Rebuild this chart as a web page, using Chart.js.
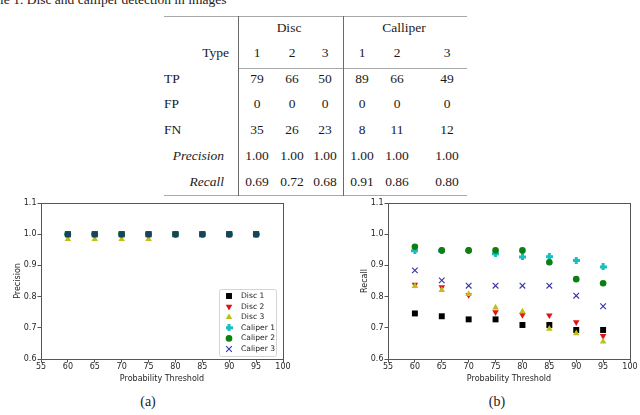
<!DOCTYPE html>
<html>
<head>
<meta charset="utf-8">
<script src="https://cdn.jsdelivr.net/npm/chart.js@4.4.1/dist/chart.umd.min.js"></script>
<style>
  html, body { margin: 0; padding: 0; background: #fff; }
  #page { position: relative; width: 640px; height: 415px; overflow: hidden;
          font-family: 'Liberation Serif', 'DejaVu Serif', serif; color: #1a1a1a; }
  .txt { position: absolute; font-size: 13.5px; line-height: 16px; white-space: nowrap; }
  .hl { position: absolute; height: 0; border-top: 1px solid #a8a8a8; }
  .vl { position: absolute; width: 0; border-left: 1px solid #6a6a6a; }
  canvas { position: absolute; }
</style>
</head>
<body>
<div id="page">
  <div class="txt" style="left:-20px;top:-8px;">Table 1. Disc and calliper detection in images</div>
  <div id="table"></div>
  <canvas id="precisionChart" width="300" height="200" style="left:0;top:190px"></canvas>
  <canvas id="recallChart" width="320" height="200" style="left:320px;top:190px"></canvas>
  <div class="txt" style="left:148px;top:394px;transform:translateX(-50%);font-size:14px">(a)</div>
  <div class="txt" style="left:497px;top:394px;transform:translateX(-50%);font-size:14px">(b)</div>
</div>
<script>
// ---- table data ----
let tableGroups = ['Disc', 'Calliper'];
let tableTypes = ['1', '2', '3', '1', '2', '3'];
let tableTP = ['79', '66', '50', '89', '66', '49'];
let tableFP = ['0', '0', '0', '0', '0', '0'];
let tableFN = ['35', '26', '23', '8', '11', '12'];
let tablePrecision = ['1.00', '1.00', '1.00', '1.00', '1.00', '1.00'];
let tableRecall = ['0.69', '0.72', '0.68', '0.91', '0.86', '0.80'];

// ---- chart data ----
let thresholds = [60, 65, 70, 75, 80, 85, 90, 95];
let seriesNames = ['Disc 1', 'Disc 2', 'Disc 3', 'Caliper 1', 'Caliper 2', 'Caliper 3'];

let precisionDisc1 = [1.0, 1.0, 1.0, 1.0, 1.0, 1.0, 1.0, 1.0];
let precisionDisc2 = [1.0, 1.0, 1.0, 1.0, 1.0, 1.0, 1.0, 1.0];
let precisionDisc3 = [0.984, 0.984, 0.984, 0.984, 1.0, 1.0, 1.0, 1.0];
let precisionCaliper1 = [1.0, 1.0, 1.0, 1.0, 1.0, 1.0, 1.0, 1.0];
let precisionCaliper2 = [1.0, 1.0, 1.0, 1.0, 1.0, 1.0, 1.0, 1.0];
let precisionCaliper3 = [1.0, 1.0, 1.0, 1.0, 1.0, 1.0, 1.0, 1.0];

let recallDisc1 = [0.746, 0.737, 0.727, 0.727, 0.709, 0.709, 0.693, 0.693];
let recallDisc2 = [0.838, 0.830, 0.805, 0.750, 0.741, 0.740, 0.718, 0.674];
let recallDisc3 = [0.834, 0.821, 0.808, 0.765, 0.752, 0.697, 0.682, 0.656];
let recallCaliper1 = [0.947, 0.947, 0.947, 0.937, 0.927, 0.928, 0.916, 0.895];
let recallCaliper2 = [0.960, 0.948, 0.948, 0.948, 0.948, 0.910, 0.856, 0.843];
let recallCaliper3 = [0.884, 0.852, 0.835, 0.835, 0.835, 0.835, 0.803, 0.769];

let xTickLabels = ['55', '60', '65', '70', '75', '80', '85', '90', '95', '100'];
let yTickLabels = ['0.6', '0.7', '0.8', '0.9', '1.0', '1.1'];

// ---- table layout ----
let tableBox = document.getElementById('table');
let colX = [257, 292, 325, 362, 397, 447];
let groupX = [289, 404];

function addText(str, x, y, align, italic) {
  let el = document.createElement('div');
  el.className = 'txt';
  el.textContent = str;
  el.style.left = x + 'px';
  el.style.top = (y - 8) + 'px';
  if (align === 'center') el.style.transform = 'translateX(-50%)';
  if (align === 'right') el.style.transform = 'translateX(-100%)';
  if (italic) el.style.fontStyle = 'italic';
  tableBox.appendChild(el);
}
function addLine(cls, x, y, len) {
  let el = document.createElement('div');
  el.className = cls;
  el.style.left = x + 'px';
  el.style.top = y + 'px';
  if (cls === 'hl') el.style.width = len + 'px'; else el.style.height = len + 'px';
  tableBox.appendChild(el);
}

addLine('hl', 164, 16, 303);
addLine('hl', 238, 68, 229);
addLine('hl', 164, 195, 303);
addLine('vl', 238, 16, 180);
addLine('vl', 343, 16, 180);

tableGroups.forEach((g, i) => addText(g, groupX[i], 28, 'center'));
addText('Type', 229, 53, 'right');
addText('TP', 164, 79, 'left');
addText('FP', 164, 104, 'left');
addText('FN', 164, 130, 'left');
addText('Precision', 224, 156, 'right', true);
addText('Recall', 224, 182, 'right', true);
let rows = [[tableTypes, 53], [tableTP, 79], [tableFP, 104], [tableFN, 130], [tablePrecision, 156], [tableRecall, 182]];
rows.forEach(([vals, y]) => {
  vals.forEach((v, i) => addText(v, colX[i], y, 'center'));
});

// ---- markers ----
function plusMarker(color) {
  let c = document.createElement('canvas');
  c.width = 7; c.height = 7;
  let g = c.getContext('2d');
  g.fillStyle = color;
  g.fillRect(2, 0, 3, 7);
  g.fillRect(0, 2, 7, 3);
  return c;
}

let seriesColors = ['#000000', '#e01414', '#bfbf1a', '#19bfbf', '#0a7f12', '#3434a8'];
let seriesStyles = [
  { pointStyle: 'rect', radius: 4.2, rotation: 0, borderWidth: 0 },
  { pointStyle: 'triangle', radius: 3.8, rotation: 180, borderWidth: 0 },
  { pointStyle: 'triangle', radius: 3.8, rotation: 0, borderWidth: 0 },
  { pointStyle: plusMarker(seriesColors[3]), radius: 3.5, rotation: 0, borderWidth: 0 },
  { pointStyle: 'circle', radius: 3.3, rotation: 0, borderWidth: 0 },
  { pointStyle: 'crossRot', radius: 4, rotation: 0, borderWidth: 1.1 }
];

let framePlugin = {
  id: 'frame',
  afterDatasetsDraw(chart) {
    let a = chart.chartArea, ctx = chart.ctx;
    ctx.save();
    ctx.strokeStyle = '#555';
    ctx.lineWidth = 1;
    ctx.strokeRect(Math.round(a.left) + 0.5, Math.round(a.top) + 0.5,
                   Math.round(a.right - a.left), Math.round(a.bottom - a.top));
    ctx.restore();
  }
};

let boxLegendPlugin = {
  id: 'boxLegend',
  afterDraw(chart, args, opts) {
    if (!opts.show) return;
    let ctx = chart.ctx, a = chart.chartArea;
    let w = 57, h = 67;
    let x0 = a.right - 7 - w, y0 = a.bottom - 3.5 - h;
    ctx.save();
    ctx.fillStyle = 'rgba(255,255,255,0.9)';
    ctx.strokeStyle = '#d4d4d4';
    ctx.lineWidth = 1;
    ctx.beginPath();
    ctx.roundRect(Math.round(x0) + 0.5, Math.round(y0) + 0.5, w, h, 2);
    ctx.fill();
    ctx.stroke();
    chart.data.datasets.forEach((ds, i) => {
      let y = y0 + 7.5 + i * 10.6;
      let st = seriesStyles[i];
      ctx.fillStyle = seriesColors[i];
      ctx.strokeStyle = seriesColors[i];
      ctx.lineWidth = st.borderWidth;
      Chart.helpers.drawPoint(ctx, st, x0 + 10, y);
      ctx.fillStyle = '#222';
      ctx.font = '7.6px "DejaVu Sans"';
      ctx.textBaseline = 'middle';
      ctx.textAlign = 'left';
      ctx.fillText(ds.label, x0 + 22, y);
    });
    ctx.restore();
  }
};

function makeChart(id, seriesValues, yTitle, padLeft, padRight, isPrecision) {
  let datasets = seriesValues.map((vals, i) => {
    let st = seriesStyles[i];
    let color = seriesColors[i];
    // in (a) the stacked squares at 1.0 read as dark teal
    if (isPrecision && i === 0) color = '#17445a';
    return {
      label: seriesNames[i],
      data: thresholds.map((t, j) => ({ x: t, y: vals[j] })),
      showLine: false,
      pointStyle: st.pointStyle,
      pointRadius: st.radius,
      pointRotation: st.rotation,
      pointBorderWidth: st.borderWidth,
      pointBackgroundColor: color,
      pointBorderColor: color,
      order: (isPrecision && i === 0) ? -1 : seriesNames.length - i
    };
  });

  let tickFont = { family: 'DejaVu Sans', size: 8 };
  return new Chart(document.getElementById(id), {
    type: 'scatter',
    data: { datasets: datasets },
    options: {
      responsive: false,
      animation: false,
      events: [],
      layout: { padding: { top: 13, right: padRight, bottom: 0, left: padLeft } },
      plugins: {
        legend: { display: false },
        tooltip: { enabled: false },
        boxLegend: { show: isPrecision }
      },
      scales: {
        x: {
          type: 'linear',
          min: 55, max: 100,
          afterBuildTicks: s => { s.ticks = xTickLabels.map(v => ({ value: Number(v) })); },
          afterFit: s => { s.height = 31; },
          border: { display: false },
          grid: { drawOnChartArea: false, drawTicks: true, tickLength: 3.5, color: '#555' },
          ticks: { font: tickFont, color: '#262626', padding: 0, maxRotation: 0,
                   callback: (v, i) => xTickLabels[i] },
          title: { display: true, text: 'Probability Threshold', font: tickFont, color: '#262626',
                   padding: { top: 0, bottom: 6 } }
        },
        y: {
          min: 0.6, max: 1.1,
          afterBuildTicks: s => { s.ticks = yTickLabels.map(v => ({ value: Number(v) })); },
          afterFit: s => { s.width = 33; },
          border: { display: false },
          grid: { drawOnChartArea: false, drawTicks: true, tickLength: 3.5, color: '#555' },
          ticks: { font: tickFont, color: '#262626', padding: 1,
                   callback: (v, i) => yTickLabels[i] },
          title: { display: true, text: yTitle, font: tickFont, color: '#262626',
                   padding: { top: 5, bottom: 0 } }
        }
      }
    },
    plugins: [framePlugin, boxLegendPlugin]
  });
}

makeChart('precisionChart',
  [precisionDisc1, precisionDisc2, precisionDisc3, precisionCaliper1, precisionCaliper2, precisionCaliper3],
  'Precision', 8, 17, true);
makeChart('recallChart',
  [recallDisc1, recallDisc2, recallDisc3, recallCaliper1, recallCaliper2, recallCaliper3],
  'Recall', 35, 10, false);
</script>
</body>
</html>
